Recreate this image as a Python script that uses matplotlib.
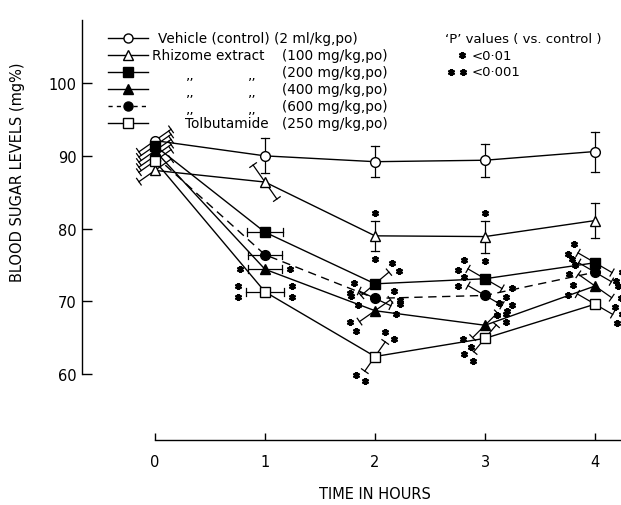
import numpy as np
import matplotlib
matplotlib.use("Agg")
import matplotlib.pyplot as plt
from matplotlib.lines import Line2D

# values (blood sugar, mg%)
hours = [0, 1, 2, 3, 4]
hour_labels = ["0", "1", "2", "3", "4"]
y_ticks = [60, 70, 80, 90, 100]

vehicle = [92.1, 90.0, 89.2, 89.4, 90.6]
rhizome_100 = [88.0, 86.4, 79.0, 78.9, 81.1]
rhizome_200 = [91.4, 79.5, 72.4, 73.1, 75.3]
rhizome_400 = [90.7, 74.4, 68.7, 66.7, 72.1]
rhizome_600 = [90.0, 76.4, 70.4, 70.8, 74.0]
tolbutamide = [89.3, 71.3, 62.4, 64.9, 69.6]

sem_vehicle = [2.7, 2.4, 2.1, 2.3, 2.75]
sem_100 = [2.7, 2.85, 2.1, 2.2, 2.35]
sem_200 = [2.7, 2.5, 2.5, 2.7, 2.7]
sem_400 = [2.7, 2.3, 2.6, 2.4, 2.8]
sem_600 = [2.7, 2.3, 2.4, 2.7, 2.6]
sem_tolb = [2.7, 2.6, 2.45, 2.4, 2.8]

# number of asterisks (1: P<0.01, 2: P<0.001)
sig_vehicle = [0, 0, 0, 0, 0]
sig_100 = [0, 0, 1, 1, 0]
sig_200 = [0, 0, 2, 2, 2]
sig_400 = [0, 1, 2, 2, 2]
sig_600 = [0, 0, 2, 2, 1]
sig_tolb = [0, 2, 2, 2, 2]

# direction the error bar is drawn in (degrees), as in the original figure
ang_vehicle = [35, 90, 90, 90, 90]
ang_100 = [35, -55, 90, 90, 90]
ang_200 = [35, 0, 40, -30, -30]
ang_400 = [35, 0, 35, 45, -35]
ang_600 = [35, 0, -25, -30, -30]
ang_tolb = [35, 0, 55, 50, -30]

series = [
    dict(y=vehicle, sem=sem_vehicle, sig=sig_vehicle, ang=ang_vehicle, marker="o", fill="white", ls="-", ms=7),
    dict(y=rhizome_100, sem=sem_100, sig=sig_100, ang=ang_100, marker="^", fill="white", ls="-", ms=7.5),
    dict(y=rhizome_200, sem=sem_200, sig=sig_200, ang=ang_200, marker="s", fill="black", ls="-", ms=7),
    dict(y=rhizome_400, sem=sem_400, sig=sig_400, ang=ang_400, marker="^", fill="black", ls="-", ms=7.5),
    dict(y=rhizome_600, sem=sem_600, sig=sig_600, ang=ang_600, marker="o", fill="black", ls=(0, (6, 4)), ms=7),
    dict(y=tolbutamide, sem=sem_tolb, sig=sig_tolb, ang=ang_tolb, marker="s", fill="white", ls="-", ms=7),
]

STAR = (6, 2, 0)
STAR_MS = 5
STAR_MEW = 1.6

fig = plt.figure(figsize=(6.21, 5.06), dpi=100)
ax = fig.add_axes([0.132, 0.1285, 0.868, 0.830])
ax.set_xlim(-0.6636, 4.236)
ax.set_ylim(50.92, 108.69)

for side in ("top", "right"):
    ax.spines[side].set_visible(False)
ax.spines["left"].set_bounds(60, 108.69)
ax.spines["bottom"].set_bounds(0, 4.236)
ax.spines["left"].set_linewidth(1.0)
ax.spines["bottom"].set_linewidth(1.0)

ax.set_xticks(hours)
ax.set_xticklabels(hour_labels)
ax.set_yticks(y_ticks)
ax.set_yticklabels([str(v) for v in y_ticks])
ax.tick_params(axis="x", direction="in", length=5, width=1, pad=10, labelsize=10.5)
ax.tick_params(axis="y", direction="in", length=7, width=1, pad=4, labelsize=10.5)

ax.set_xlabel("TIME IN HOURS", fontsize=10.5)
ax.xaxis.set_label_coords(0.5436, -0.11)
ax.set_ylabel("BLOOD SUGAR LEVELS (mg%)", fontsize=10.5)
ax.yaxis.set_label_coords(-0.105, 0.64)

to_disp = ax.transData.transform
to_data = ax.transData.inverted().transform
sy = to_disp((0, 1))[1] - to_disp((0, 0))[1]


def draw_bar(x, y, sem, angle, nstars):
    p = to_disp((x, y))
    a = np.deg2rad(angle)
    u = np.array([np.cos(a), np.sin(a)])
    n = np.array([-np.sin(a), np.cos(a)])
    half = sem * sy
    e1, e2 = p + half * u, p - half * u
    seg = to_data([e1, e2])
    ax.plot(seg[:, 0], seg[:, 1], color="black", lw=0.9, zorder=2)
    for e in (e1, e2):
        c = to_data([e - 4 * n, e + 4 * n])
        ax.plot(c[:, 0], c[:, 1], color="black", lw=0.9, zorder=2)
    if nstars == 0:
        return
    for sgn in (1, -1):
        base = p + sgn * (half + 8) * u
        if nstars == 1:
            pts = [base]
        else:
            pts = [base + 5.5 * n, base - 5.5 * n]
        pts = to_data(pts)
        ax.plot(pts[:, 0], pts[:, 1], ls="none", marker=STAR, ms=STAR_MS, mew=STAR_MEW,
                color="black", zorder=4)


for s in series:
    ax.plot(hours, s["y"], color="black", lw=1.0, ls=s["ls"], zorder=1)
    for x, y, e, a, k in zip(hours, s["y"], s["sem"], s["ang"], s["sig"]):
        draw_bar(x, y, e, a, k)
    ax.plot(hours, s["y"], ls="none", marker=s["marker"], ms=s["ms"],
            mfc=s["fill"], mec="black", mew=1.0, zorder=3)

# legend drawn in figure pixels, like the hand-set key of the original
W, H = 621.0, 506.0


def fx(px):
    return px / W


def fy(py):
    return 1 - py / H


legend_rows = [
    ("Vehicle (control) (2 ml/kg,po)", None, None),
    ("Rhizome extract", None, "(100 mg/kg,po)"),
    (None, ",,", "(200 mg/kg,po)"),
    (None, ",,", "(400 mg/kg,po)"),
    (None, ",,", "(600 mg/kg,po)"),
    ("Tolbutamide", None, "(250 mg/kg,po)"),
]
row_y = [39, 56, 73, 90, 107, 124]
fs = 9.8
for (name, ditto, dose), s, ry in zip(legend_rows, series, row_y):
    key_line = Line2D([fx(108), fx(148)], [fy(ry), fy(ry)], color="black", lw=1.0,
                      ls=s["ls"] if s["ls"] == "-" else (0, (3, 3)),
                      transform=fig.transFigure)
    fig.add_artist(key_line)
    key_mark = Line2D([fx(128)], [fy(ry)], ls="none", marker=s["marker"], ms=s["ms"] - 0.5,
                      mfc=s["fill"], mec="black", mew=1.0, transform=fig.transFigure)
    fig.add_artist(key_mark)
    if name is not None and dose is None:
        fig.text(fx(158), fy(ry), name, fontsize=fs, va="center", ha="left")
    elif name is not None:
        x0 = 152 if name.startswith("Rhizome") else 185
        fig.text(fx(x0), fy(ry), name, fontsize=fs, va="center", ha="left")
    if ditto is not None:
        fig.text(fx(190), fy(ry + 2), ditto, fontsize=fs, va="center", ha="center")
        fig.text(fx(252), fy(ry + 2), ditto, fontsize=fs, va="center", ha="center")
    if dose is not None:
        fig.text(fx(282), fy(ry), dose, fontsize=fs, va="center", ha="left")

fig.text(fx(445), fy(39), "\u2018P\u2019 values ( vs. control )", fontsize=9.5, va="center", ha="left")
fig.add_artist(Line2D([fx(462)], [fy(56)], ls="none", marker=STAR, ms=STAR_MS, mew=STAR_MEW,
                      color="black", transform=fig.transFigure))
fig.text(fx(472), fy(56), "<0\u00b701", fontsize=9.5, va="center", ha="left")
fig.add_artist(Line2D([fx(451), fx(463)], [fy(73), fy(73)], ls="none", marker=STAR, ms=STAR_MS,
                      mew=STAR_MEW, color="black", transform=fig.transFigure))
fig.text(fx(472), fy(73), "<0\u00b7001", fontsize=9.5, va="center", ha="left")

fig.savefig("out.png", dpi=100)
